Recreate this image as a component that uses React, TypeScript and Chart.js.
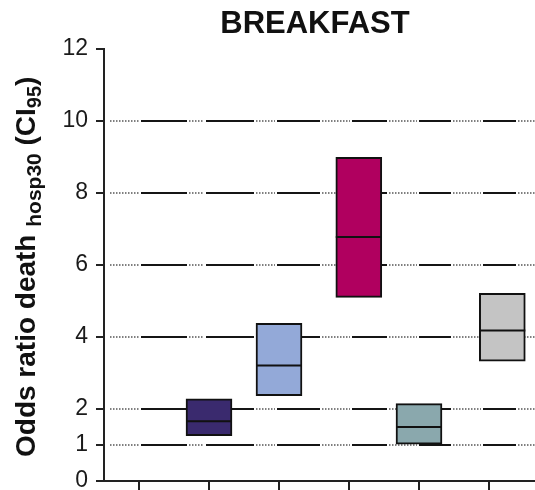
import React, { useEffect, useRef } from "react";
import { Chart, registerables } from "chart.js";

Chart.register(...registerables);

const title = "BREAKFAST";
const categoryPositions = [1.5, 2.5, 3.64, 4.5, 5.69];
const lowerCI = [1.26, 2.37, 5.1, 1.02, 3.33];
const upperCI = [2.28, 4.38, 8.99, 2.15, 5.21];
const medians = [1.66, 3.21, 6.78, 1.5, 4.18];
const boxColors = ["#3a2a6e", "#93a9d8", "#b0005f", "#8aa8ad", "#c4c4c4"];
const yTicks = [0, 1, 2, 4, 6, 8, 10, 12];
const gridValues = [1, 2, 4, 6, 8, 10];
const xTicks = [0.5, 1.5, 2.5, 3.5, 4.5, 5.5];

const FONT = "'Liberation Sans', Arial, Helvetica, sans-serif";

// alternating [dotted, solid] run lengths in px for the reference's mixed grid style
const gridRuns = [29, 46, 15, 48, 19, 43, 28, 35, 28, 32, 28, 33, 28, 40];

const decorPlugin = {
  id: "decor",
  beforeDatasetsDraw(chart: any) {
    const { ctx, chartArea, scales } = chart;
    const y = scales.y;
    ctx.save();
    gridValues.forEach((v) => {
      const py = Math.round(y.getPixelForValue(v));
      let x = chartArea.left + 6;
      let i = 0;
      while (x < chartArea.right) {
        const len = gridRuns[i % gridRuns.length];
        const end = Math.min(x + len, chartArea.right);
        ctx.beginPath();
        if (i % 2 === 0) {
          ctx.setLineDash([1.5, 1.5]);
          ctx.lineWidth = 1.5;
          ctx.strokeStyle = "#555";
        } else {
          ctx.setLineDash([]);
          ctx.lineWidth = 2;
          ctx.strokeStyle = "#151515";
        }
        ctx.moveTo(x, py);
        ctx.lineTo(end, py);
        ctx.stroke();
        x = end + 2;
        i++;
      }
    });
    ctx.restore();
  },
  afterDatasetsDraw(chart: any) {
    const { ctx, scales } = chart;
    const meta = chart.getDatasetMeta(0);
    ctx.save();
    ctx.strokeStyle = "#111";
    ctx.lineWidth = 2;
    meta.data.forEach((bar: any, i: number) => {
      const py = scales.y.getPixelForValue(medians[i]);
      ctx.beginPath();
      ctx.moveTo(bar.x - bar.width / 2, py);
      ctx.lineTo(bar.x + bar.width / 2, py);
      ctx.stroke();
    });
    ctx.restore();
  },
  afterDraw(chart: any) {
    const { ctx } = chart;
    ctx.save();
    ctx.fillStyle = "#111";
    ctx.font = `bold 31px ${FONT}`;
    ctx.textAlign = "center";
    ctx.textBaseline = "alphabetic";
    ctx.fillText(title, 315, 33);

    // rotated y-axis title with subscripts
    ctx.translate(35, 457);
    ctx.rotate(-Math.PI / 2);
    ctx.textAlign = "left";
    const runs: [string, number, number][] = [
      ["Odds ratio death ", 28, 0],
      ["hosp30", 21, 6],
      [" (CI", 28, 0],
      ["95", 20, 6],
      [")", 28, 0],
    ];
    let x = 0;
    runs.forEach(([t, size, off]) => {
      ctx.font = `bold ${size}px ${FONT}`;
      ctx.fillText(t, x, off);
      x += ctx.measureText(t).width;
    });
    ctx.restore();
  },
};

export default function App() {
  const ref = useRef<HTMLCanvasElement>(null);
  useEffect(() => {
    if (!ref.current) return;
    const chart = new Chart(ref.current, {
      type: "bar",
      data: {
        datasets: [
          {
            data: categoryPositions.map((x, i) => ({ x, y: [lowerCI[i], upperCI[i]] })) as any,
            backgroundColor: boxColors,
            borderColor: "#111",
            borderWidth: 2,
            borderSkipped: false,
            barThickness: 46,
          },
        ],
      },
      options: {
        responsive: false,
        animation: false,
        layout: { padding: { top: 49, left: 0, right: 0, bottom: 0 } },
        plugins: { legend: { display: false }, tooltip: { enabled: false }, title: { display: false } },
        scales: {
          x: {
            type: "linear",
            offset: false,
            min: 0,
            max: (535 - 104) / 70,
            afterBuildTicks: (s: any) => {
              s.ticks = xTicks.map((v) => ({ value: v }));
            },
            afterFit: (s: any) => {
              s.paddingLeft = 0;
              s.paddingRight = 0;
            },
            ticks: { display: false },
            grid: { offset: false, drawOnChartArea: false, tickLength: 9, color: "#222", lineWidth: 2 },
            border: { color: "#222", width: 2 },
          },
          y: {
            min: 0,
            max: 12,
            afterBuildTicks: (s: any) => {
              s.ticks = yTicks.map((v) => ({ value: v }));
            },
            afterFit: (s: any) => {
              s.width = 104;
              s.paddingTop = 0;
              s.paddingBottom = 0;
            },
            ticks: {
              padding: 8,
              color: "#1a1a1a",
              font: { family: FONT, size: 23 },
            },
            grid: { drawOnChartArea: false, tickLength: 8, color: "#222", lineWidth: 2 },
            border: { color: "#222", width: 2 },
          },
        },
      },
      plugins: [decorPlugin],
    });
    return () => chart.destroy();
  }, []);
  return (
    <div style={{ position: "absolute", left: 0, top: 0, width: 535, height: 490, background: "#fff" }}>
      <canvas ref={ref} width={535} height={490} />
    </div>
  );
}
